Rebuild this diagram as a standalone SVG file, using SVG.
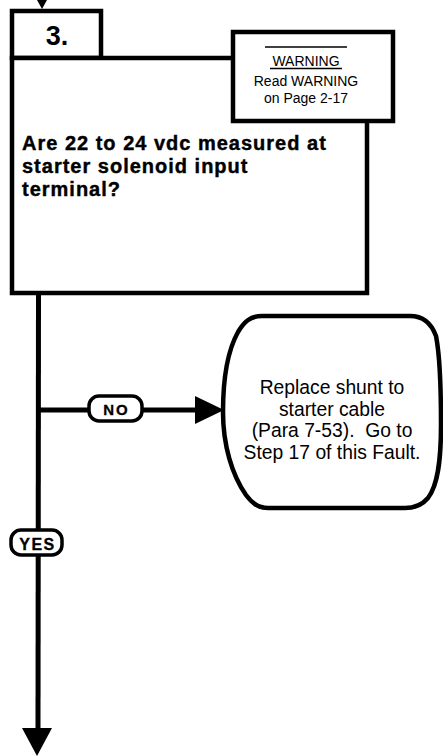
<svg xmlns="http://www.w3.org/2000/svg" width="443" height="756" viewBox="0 0 443 756">
<style>
.box{fill:#fff;stroke:#000;stroke-width:4.5;stroke-linejoin:miter}
.ln{fill:none;stroke:#000;stroke-width:5}
.pill{fill:#fff;stroke:#000;stroke-width:3.5}
.ah{fill:#000}
text{font-family:"Liberation Sans",Arial,Helvetica,sans-serif;fill:#000}
.q{font-size:20px;font-weight:bold;letter-spacing:1px;stroke:#000;stroke-width:0.4}
.w{font-size:14px;text-anchor:middle}
.t{font-size:19.3px;text-anchor:middle;white-space:pre}
.lab{font-weight:bold;text-anchor:middle;stroke:#000;stroke-width:0.3}
</style>
<rect width="443" height="756" fill="#fff"/>
<g id="connectors">
<polygon class="ah" points="37,0 47,0 42,9"/>
<line class="ln" x1="38.5" y1="293" x2="38" y2="732"/>
<polygon class="ah" points="22,728 52,728 37,756"/>
<line class="ln" x1="38.5" y1="410" x2="198" y2="410"/>
<polygon class="ah" points="195,396 224,410 195,424"/>
</g>
<g id="step3">
<rect class="box" x="12" y="11" width="89" height="47"/>
<text x="57" y="45" style="font-size:27px;font-weight:bold;text-anchor:middle">3.</text>
</g>
<g id="decision">
<path class="box" d="M233,58 L12,58 L12,293 L367,293 L367,121"/>
<text class="q" x="22" y="150">Are 22 to 24 vdc measured at</text>
<text class="q" x="22" y="173">starter solenoid input</text>
<text class="q" x="22" y="196">terminal?</text>
</g>
<g id="warning">
<rect class="box" x="233" y="32" width="160" height="89"/>
<line x1="265" y1="47" x2="347" y2="47" stroke="#000" stroke-width="1.5"/>
<text class="w" x="306" y="65.5">WARNING</text>
<line x1="270" y1="68.5" x2="342" y2="68.5" stroke="#000" stroke-width="1.3"/>
<text class="w" x="306" y="85.5">Read WARNING</text>
<text class="w" x="306" y="103">on Page 2-17</text>
</g>
<g id="terminal">
<path class="box" d="M262,316 L410,316 C425,316 432,325 436,336 C440,356 441,390 441,425 C441,460 438,485 428,498 C422,505 415,508 405,508 L268,508 C258,508 252,503 246,495 C232,475 223,445 223,412 C223,380 228,350 238,332 C244,322 250,316 262,316 Z"/>
<text class="t" x="332" y="394">Replace shunt to</text>
<text class="t" x="332" y="415.5">starter cable</text>
<text class="t" x="332" y="437">(Para 7-53).&#160; Go to</text>
<text class="t" x="332" y="459">Step 17 of this Fault.</text>
</g>
<g id="no-label">
<rect class="pill" x="89" y="396" width="53" height="25" rx="10"/>
<text class="lab" x="116.5" y="414.5" style="font-size:15px;letter-spacing:2px">NO</text>
</g>
<g id="yes-label">
<rect class="pill" x="11" y="530" width="51" height="25" rx="10"/>
<text class="lab" x="37.5" y="549.5" style="font-size:16px;letter-spacing:1.5px">YES</text>
</g>
</svg>
